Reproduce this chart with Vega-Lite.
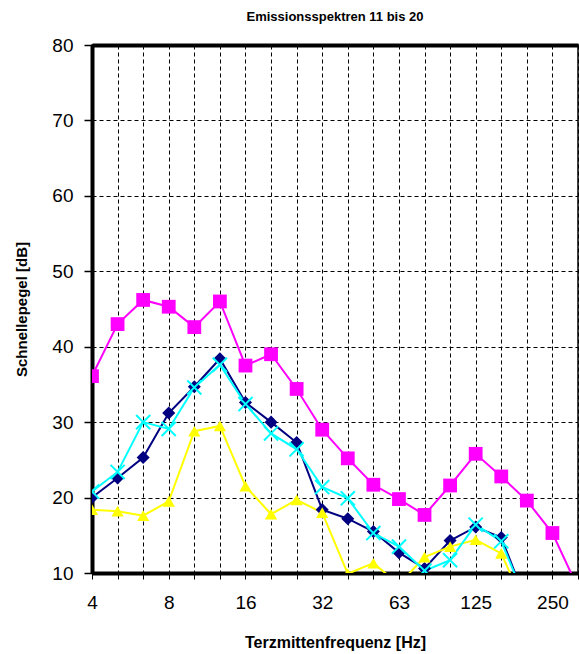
{
  "$schema": "https://vega.github.io/schema/vega-lite/v6.json",
  "width": 486,
  "height": 528,
  "autosize": {"type": "none"},
  "padding": {"left": 92, "top": 45, "right": 1, "bottom": 81},
  "background": "white",
  "title": {
    "text": "Emissionsspektren 11 bis 20",
    "font": "Liberation Sans",
    "fontSize": 13,
    "fontWeight": "bold",
    "color": "black",
    "anchor": "middle",
    "offset": 12
  },
  "config": {
    "view": {"stroke": "black", "strokeWidth": 1.5},
    "axis": {"labelFont": "Liberation Sans", "titleFont": "Liberation Sans", "labelColor": "black", "titleColor": "black"}
  },
  "data": {
    "values": [
      {"f": 4, "s": "M", "v": 36.1}, {"f": 5, "s": "M", "v": 43.0}, {"f": 6.3, "s": "M", "v": 46.2}, {"f": 8, "s": "M", "v": 45.3},
      {"f": 10, "s": "M", "v": 42.6}, {"f": 12.5, "s": "M", "v": 46.0}, {"f": 16, "s": "M", "v": 37.5}, {"f": 20, "s": "M", "v": 39.0},
      {"f": 25, "s": "M", "v": 34.4}, {"f": 31.5, "s": "M", "v": 29.0}, {"f": 40, "s": "M", "v": 25.2}, {"f": 50, "s": "M", "v": 21.7},
      {"f": 63, "s": "M", "v": 19.8}, {"f": 80, "s": "M", "v": 17.7}, {"f": 100, "s": "M", "v": 21.6}, {"f": 125, "s": "M", "v": 25.8},
      {"f": 160, "s": "M", "v": 22.8}, {"f": 200, "s": "M", "v": 19.6}, {"f": 250, "s": "M", "v": 15.3}, {"f": 315, "s": "M", "v": 8.0},

      {"f": 4, "s": "N", "v": 20.0}, {"f": 5, "s": "N", "v": 22.6}, {"f": 6.3, "s": "N", "v": 25.3}, {"f": 8, "s": "N", "v": 31.2},
      {"f": 10, "s": "N", "v": 34.7}, {"f": 12.5, "s": "N", "v": 38.4}, {"f": 16, "s": "N", "v": 32.6}, {"f": 20, "s": "N", "v": 30.0},
      {"f": 25, "s": "N", "v": 27.3}, {"f": 31.5, "s": "N", "v": 18.4}, {"f": 40, "s": "N", "v": 17.2}, {"f": 50, "s": "N", "v": 15.5},
      {"f": 63, "s": "N", "v": 12.7}, {"f": 80, "s": "N", "v": 10.6}, {"f": 100, "s": "N", "v": 14.3}, {"f": 125, "s": "N", "v": 16.1},
      {"f": 160, "s": "N", "v": 14.7}, {"f": 200, "s": "N", "v": 6.0},

      {"f": 4, "s": "Y", "v": 18.4}, {"f": 5, "s": "Y", "v": 18.2}, {"f": 6.3, "s": "Y", "v": 17.6}, {"f": 8, "s": "Y", "v": 19.5},
      {"f": 10, "s": "Y", "v": 28.8}, {"f": 12.5, "s": "Y", "v": 29.5}, {"f": 16, "s": "Y", "v": 21.5}, {"f": 20, "s": "Y", "v": 17.8},
      {"f": 25, "s": "Y", "v": 19.7}, {"f": 31.5, "s": "Y", "v": 18.0}, {"f": 40, "s": "Y", "v": 9.9}, {"f": 50, "s": "Y", "v": 11.3},
      {"f": 63, "s": "Y", "v": 8.5}, {"f": 80, "s": "Y", "v": 12.1}, {"f": 100, "s": "Y", "v": 13.5}, {"f": 125, "s": "Y", "v": 14.4},
      {"f": 160, "s": "Y", "v": 12.6}, {"f": 200, "s": "Y", "v": 5.0},

      {"f": 4, "s": "C", "v": 20.8}, {"f": 5, "s": "C", "v": 23.4}, {"f": 6.3, "s": "C", "v": 30.0}, {"f": 8, "s": "C", "v": 29.1},
      {"f": 10, "s": "C", "v": 34.6}, {"f": 12.5, "s": "C", "v": 37.6}, {"f": 16, "s": "C", "v": 32.4}, {"f": 20, "s": "C", "v": 28.5},
      {"f": 25, "s": "C", "v": 26.4}, {"f": 31.5, "s": "C", "v": 21.4}, {"f": 40, "s": "C", "v": 19.9}, {"f": 50, "s": "C", "v": 15.3},
      {"f": 63, "s": "C", "v": 13.5}, {"f": 80, "s": "C", "v": 10.3}, {"f": 100, "s": "C", "v": 11.7}, {"f": 125, "s": "C", "v": 16.4},
      {"f": 160, "s": "C", "v": 14.2}, {"f": 200, "s": "C", "v": 6.0}
    ]
  },
  "resolve": {"axis": {"x": "independent"}},
  "layer": [
    {
      "mark": {"type": "line", "strokeWidth": 2, "clip": true},
      "encoding": {
        "x": {
          "field": "f", "type": "ordinal",
          "scale": {"type": "point", "padding": 0},
          "axis": {
            "orient": "bottom",
            "title": "Terzmittenfrequenz [Hz]",
            "titleFontSize": 16, "titleFontWeight": "bold", "titlePadding": 22,
            "labelAngle": 0, "labelFontSize": 19, "labelPadding": 14,
            "labelExpr": "datum.value == 31.5 ? '32' : (indexof([4, 8, 16, 63, 125, 250], datum.value) >= 0 ? datum.label : '')",
            "tickSize": 6, "tickColor": "black", "tickWidth": 1,
            "domainColor": "black", "domainWidth": 4,
            "grid": true, "gridColor": "black", "gridDash": [4, 3], "gridWidth": 1
          }
        },
        "y": {
          "field": "v", "type": "quantitative",
          "scale": {"domain": [10, 80], "nice": false, "zero": false},
          "axis": {
            "title": "Schnellepegel [dB]",
            "titleFontSize": 15, "titleFontWeight": "bold", "titlePadding": 22,
            "values": [10, 20, 30, 40, 50, 60, 70, 80],
            "labelFontSize": 19, "labelPadding": 11,
            "tickSize": 8, "tickColor": "black", "tickWidth": 1.5,
            "domainColor": "black", "domainWidth": 4,
            "grid": true, "gridColor": "black", "gridDash": [4, 3], "gridWidth": 1
          }
        },
        "color": {
          "field": "s", "type": "nominal", "legend": null,
          "scale": {"domain": ["M", "N", "Y", "C"], "range": ["#FF00FF", "#000080", "#FFFF00", "#00FFFF"]}
        }
      }
    },
    {
      "transform": [{"filter": "datum.s != 'C'"}],
      "mark": {"type": "point", "filled": true, "opacity": 1, "clip": true},
      "encoding": {
        "x": {"field": "f", "type": "ordinal", "scale": {"type": "point", "padding": 0}, "axis": null},
        "y": {"field": "v", "type": "quantitative"},
        "color": {"field": "s", "type": "nominal", "legend": null},
        "shape": {
          "field": "s", "type": "nominal", "legend": null,
          "scale": {"domain": ["M", "N", "Y"], "range": ["square", "diamond", "triangle-up"]}
        },
        "size": {
          "field": "s", "type": "nominal", "legend": null,
          "scale": {"domain": ["M", "N", "Y"], "range": [190, 150, 170]}
        }
      }
    },
    {
      "transform": [{"filter": "datum.s == 'C'"}],
      "mark": {"type": "point", "filled": false, "opacity": 1, "strokeWidth": 2, "clip": true, "shape": "M-1,-1L1,1M-1,1L1,-1", "size": 200},
      "encoding": {
        "x": {"field": "f", "type": "ordinal", "scale": {"type": "point", "padding": 0}, "axis": null},
        "y": {"field": "v", "type": "quantitative"},
        "color": {"field": "s", "type": "nominal", "legend": null}
      }
    },
    {
      "mark": {"type": "point", "opacity": 0},
      "encoding": {
        "x": {
          "field": "f", "type": "ordinal", "scale": {"type": "point", "padding": 0},
          "axis": {"orient": "top", "title": null, "labels": false, "ticks": false, "grid": false, "domainColor": "black", "domainWidth": 4}
        },
        "y": {"field": "v", "type": "quantitative"}
      }
    }
  ]
}
